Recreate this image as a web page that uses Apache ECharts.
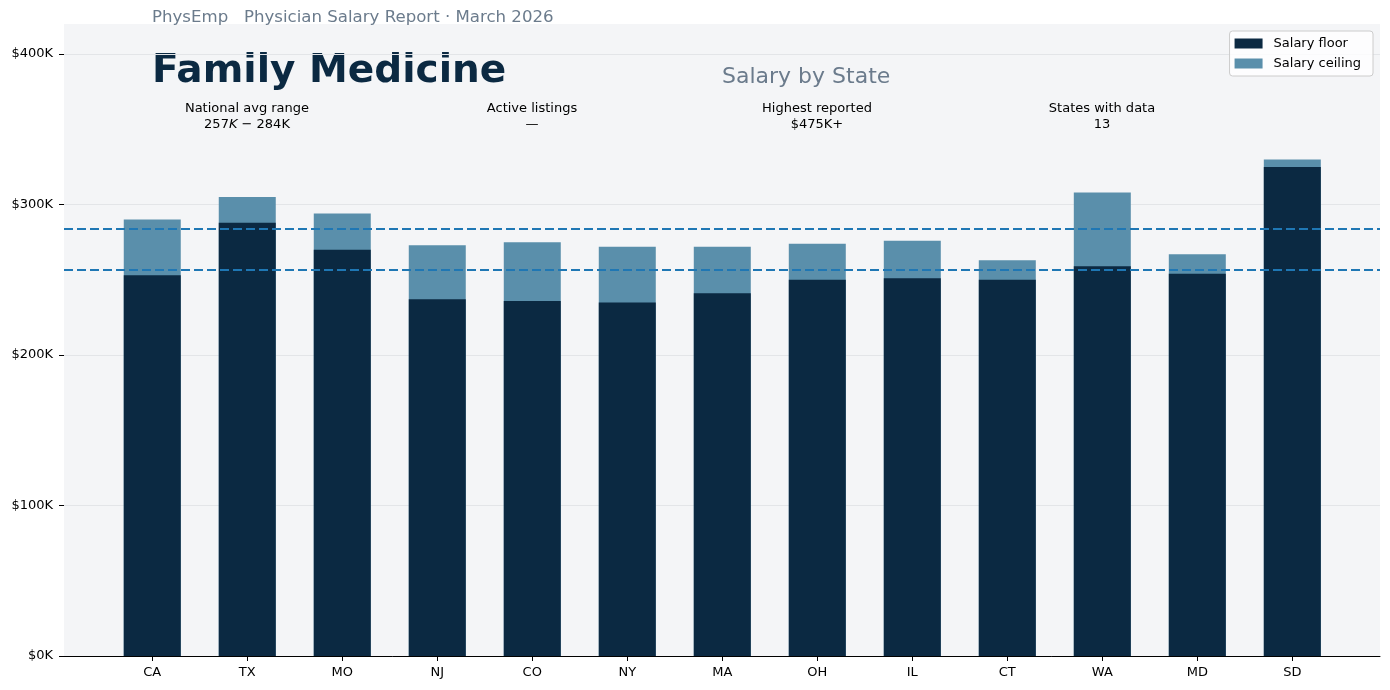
<!DOCTYPE html>
<html>
<head>
<meta charset="utf-8">
<script src="https://cdn.jsdelivr.net/npm/echarts@6/dist/echarts.min.js"></script>
<style>
html,body{margin:0;padding:0;background:#ffffff;}
#chart{width:1390px;height:690px;}
</style>
</head>
<body>
<div id="chart"></div>
<script>
const states = ['CA','TX','MO','NJ','CO','NY','MA','OH','IL','CT','WA','MD','SD'];
const salaryFloor = [253, 288, 270, 237, 236, 235, 241, 250, 251, 250, 259, 254, 325];
const salaryCeiling = [290, 305, 294, 273, 275, 272, 272, 274, 276, 263, 308, 267, 330];
const avgRange = [257, 284];
const yTicks = [0, 100, 200, 300, 400];
const stats = [
  {label: 'National avg range', value: 'avg'},
  {label: 'Active listings', value: '—'},
  {label: 'Highest reported', value: '$475K+'},
  {label: 'States with data', value: '13'}
];

const FONT = 'DejaVu Sans';
const chart = echarts.init(document.getElementById('chart'), null, {renderer: 'canvas'});

const idx = states.map((_, i) => i);
const floorData = salaryFloor.map((v, i) => [i, v]);
const ceilData = salaryCeiling.map((v, i) => [i, v]);

const statGraphics = [];
const statX = [247, 532, 817, 1102];
stats.forEach((s, i) => {
  statGraphics.push({
    type: 'text', x: statX[i], y: 109, silent: true,
    style: {text: s.label, textAlign: 'center', textVerticalAlign: 'middle', fill: '#000', font: '13px "' + FONT + '"'}
  });
  if (s.value === 'avg') {
    statGraphics.push({
      type: 'text', x: statX[i], y: 125, silent: true,
      style: {
        text: '{n|257}{i|K}{n| − 284K}',
        textAlign: 'center', textVerticalAlign: 'middle',
        rich: {
          n: {fontFamily: FONT, fontSize: 13, fill: '#000'},
          i: {fontFamily: FONT, fontSize: 13, fontStyle: 'italic', fill: '#000'}
        }
      }
    });
  } else {
    statGraphics.push({
      type: 'text', x: statX[i], y: 125, silent: true,
      style: {text: s.value, textAlign: 'center', textVerticalAlign: 'middle', fill: '#000', font: '13px "' + FONT + '"'}
    });
  }
});

const option = {
  animation: false,
  backgroundColor: '#ffffff',
  textStyle: {fontFamily: FONT},
  grid: {left: 64, right: 10, top: 24, bottom: 34, show: true, backgroundColor: '#f4f5f7', borderWidth: 0},
  legend: {
    data: ['Salary floor', 'Salary ceiling'],
    orient: 'vertical',
    right: 17, top: 31,
    itemWidth: 28, itemHeight: 10, itemGap: 7,
    padding: [6, 12, 6, 5],
    backgroundColor: 'rgba(255,255,255,0.8)',
    borderColor: '#cccccc', borderWidth: 1, borderRadius: 3,
    textStyle: {fontFamily: FONT, fontSize: 13, color: '#000', padding: [0, 0, 0, 6]},
    icon: 'rect'
  },
  xAxis: {
    type: 'value',
    min: -0.929, max: 12.923,
    axisLine: {show: true, onZero: false, lineStyle: {color: '#000', width: 1}},
    axisTick: {show: true, length: 5, customValues: idx, lineStyle: {color: '#000'}},
    axisLabel: {
      customValues: idx,
      formatter: v => states[Math.round(v)] || '',
      fontFamily: FONT, fontSize: 13, color: '#000', margin: 10
    },
    splitLine: {show: false}
  },
  yAxis: {
    type: 'value',
    min: 0, max: 420,
    axisLine: {show: false, onZero: false},
    axisTick: {show: true, length: 5, customValues: yTicks, lineStyle: {color: '#000'}},
    axisLabel: {
      customValues: yTicks,
      formatter: v => '$' + v + 'K',
      fontFamily: FONT, fontSize: 13, color: '#000', margin: 11,
      padding: [3, 0, 0, 0]
    },
    splitLine: {show: true, lineStyle: {color: '#e3e5e8', width: 1}}
  },
  series: [
    {
      name: 'Salary ceiling', type: 'bar', data: ceilData,
      barWidth: 57, barGap: '-100%',
      itemStyle: {color: '#5a8fab'}, z: 2
    },
    {
      name: 'Salary floor', type: 'bar', data: floorData,
      barWidth: 57, barGap: '-100%',
      itemStyle: {color: '#0b2942'}, z: 3,
      markLine: {
        silent: true, symbol: 'none', label: {show: false},
        lineStyle: {color: '#1f77b4', type: [9, 4], width: 2.2},
        data: avgRange.map(v => ({yAxis: v})),
        z: 5
      }
    }
  ],
  graphic: [
    {type: 'text', x: 152, y: 18, silent: true,
     style: {text: 'PhysEmp   Physician Salary Report · March 2026', textVerticalAlign: 'middle', fill: '#6b7b8c', font: '16.6px "' + FONT + '"'}},
    {type: 'text', x: 152, y: 72, silent: true,
     style: {text: 'Family Medicine', textVerticalAlign: 'middle', fill: '#0b2942', font: 'bold 39px "' + FONT + '"'}},
    {type: 'text', x: 722, y: 77, silent: true,
     style: {text: 'Salary by State', textVerticalAlign: 'middle', fill: '#6b7b8c', font: '22px "' + FONT + '"'}}
  ].concat(statGraphics)
};
chart.setOption(option);
</script>
</body>
</html>
